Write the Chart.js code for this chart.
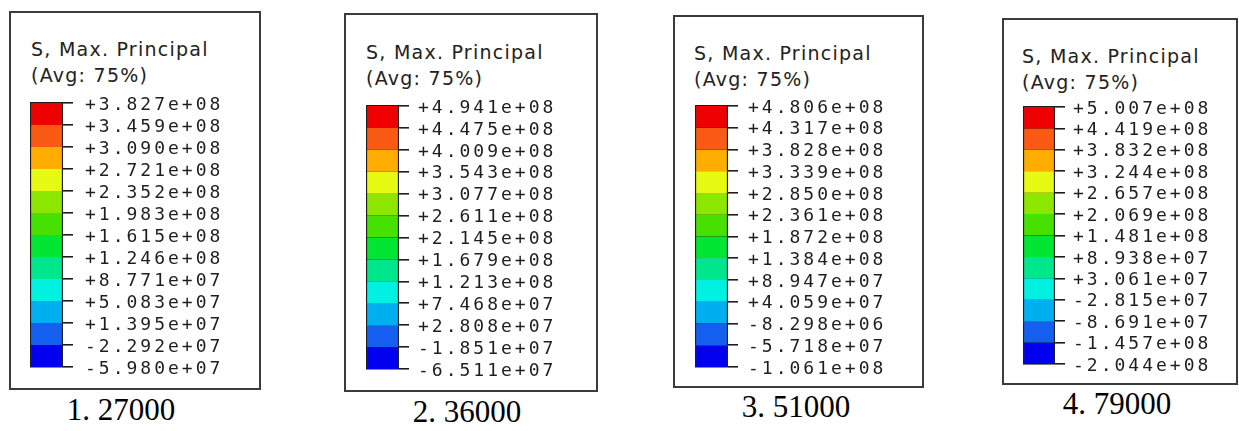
<!DOCTYPE html>
<html>
<head>
<meta charset="utf-8">
<script src="https://cdn.jsdelivr.net/npm/chart.js@4.4.1/dist/chart.umd.min.js"></script>
<style>
  html, body { margin: 0; padding: 0; background: #ffffff; }
  #page { position: relative; width: 1239px; height: 431px; overflow: hidden; background: #ffffff; }
  .box { position: absolute; box-sizing: border-box; border: 2px solid #3b3b3b; background: #ffffff; }
  .title { position: absolute; font-family: "DejaVu Sans", Verdana, sans-serif; font-size: 19px;
           line-height: 26px; letter-spacing: 1.25px; color: #222222; white-space: pre; }
  .caption { position: absolute; width: 200px; text-align: center; font-family: "Liberation Serif", "Times New Roman", serif;
             font-size: 31px; line-height: 30px; color: #000000; white-space: pre; }
  canvas { position: absolute; }
</style>
</head>
<body>
<div id="page"></div>
<script>
// Contour legend levels (S, Max. Principal, Pa), top to bottom, one list per load step
const levels27000 = [3.827e8, 3.459e8, 3.090e8, 2.721e8, 2.352e8, 1.983e8, 1.615e8, 1.246e8, 8.771e7, 5.083e7, 1.395e7, -2.292e7, -5.980e7];
const levels36000 = [4.941e8, 4.475e8, 4.009e8, 3.543e8, 3.077e8, 2.611e8, 2.145e8, 1.679e8, 1.213e8, 7.468e7, 2.808e7, -1.851e7, -6.511e7];
const levels51000 = [4.806e8, 4.317e8, 3.828e8, 3.339e8, 2.850e8, 2.361e8, 1.872e8, 1.384e8, 8.947e7, 4.059e7, -8.298e6, -5.718e7, -1.061e8];
const levels79000 = [5.007e8, 4.419e8, 3.832e8, 3.244e8, 2.657e8, 2.069e8, 1.481e8, 8.938e7, 3.061e7, -2.815e7, -8.691e7, -1.457e8, -2.044e8];

const captions = ['1. 27000', '2. 36000', '3. 51000', '4. 79000'];
const titleLines = ['S, Max. Principal', '(Avg: 75%)'];

// Rainbow spectrum, one colour per band, top (max) to bottom (min)
const bandColors = ['#ee0000', '#fa5a14', '#ffae00', '#e6fa14', '#8ce600', '#46e100',
                    '#00e632', '#00e68c', '#00f0e1', '#00aff0', '#145ff0', '#0000ee'];

// Placement of each legend panel on the page
const panelLayout = [
  { box: [9, 11, 252, 379],   bar: [30, 103, 33, 264],   title: [31, 56],   caption: [121, 421], labelPad: 12 },
  { box: [344, 13, 254, 379], bar: [366, 106, 33, 263],  title: [366, 59],  caption: [467, 423], labelPad: 9 },
  { box: [673, 15, 251, 373], bar: [695, 106, 33, 261],  title: [694, 60],  caption: [796, 418], labelPad: 10 },
  { box: [1002, 18, 236, 367], bar: [1023, 107, 32, 257], title: [1022, 63], caption: [1117, 415], labelPad: 8 }
];
const allLevels = [levels27000, levels36000, levels51000, levels79000];

// "+3.827e+08" style: explicit sign, 4 significant digits, two-digit exponent
function formatLevel(v) {
  const parts = Math.abs(v).toExponential(3).split('e');
  const expSign = parts[1][0];
  const expDigits = parts[1].slice(1).padStart(2, '0');
  return (v < 0 ? '-' : '+') + parts[0] + 'e' + expSign + expDigits;
}

// Tick labels of the legend are drawn with wide character spacing
const spacedLabels = {
  id: 'spacedLabels',
  beforeDraw(chart) { chart.ctx.letterSpacing = '3px'; }
};

const page = document.getElementById('page');
const AXIS_W = 170;
const PAD = 14;

panelLayout.forEach((lay, p) => {
  const levels = allLevels[p];

  const box = document.createElement('div');
  box.className = 'box';
  box.style.left = lay.box[0] + 'px';
  box.style.top = lay.box[1] + 'px';
  box.style.width = lay.box[2] + 'px';
  box.style.height = lay.box[3] + 'px';
  page.appendChild(box);

  const title = document.createElement('div');
  title.className = 'title';
  title.textContent = titleLines.join('\n');
  title.style.left = lay.title[0] + 'px';
  title.style.top = (lay.title[1] - 19.6) + 'px';
  page.appendChild(title);

  const cap = document.createElement('div');
  cap.className = 'caption';
  cap.textContent = captions[p];
  cap.style.left = (lay.caption[0] - 100) + 'px';
  cap.style.top = (lay.caption[1] - 25.6) + 'px';
  page.appendChild(cap);

  const canvas = document.createElement('canvas');
  const cw = lay.bar[2] + AXIS_W;
  const ch = lay.bar[3] + PAD * 2;
  canvas.width = cw;
  canvas.height = ch;
  canvas.style.width = cw + 'px';
  canvas.style.height = ch + 'px';
  canvas.style.left = lay.bar[0] + 'px';
  canvas.style.top = (lay.bar[1] - PAD) + 'px';
  page.appendChild(canvas);

  const datasets = bandColors.map((color, i) => ({
    data: [[levels[i + 1], levels[i]]],
    backgroundColor: color,
    borderColor: '#1e1e1e',
    borderWidth: { left: 1.5, right: 1.5, top: 0, bottom: 0 },
    borderSkipped: false,
    grouped: false,
    barPercentage: 1,
    categoryPercentage: 1
  }));

  new Chart(canvas, {
    type: 'bar',
    data: { labels: [''], datasets },
    plugins: [spacedLabels],
    options: {
      responsive: false,
      animation: false,
      events: [],
      layout: { padding: { top: PAD, bottom: PAD, left: 0, right: 0 } },
      plugins: { legend: { display: false }, tooltip: { enabled: false }, title: { display: false } },
      scales: {
        x: { display: false },
        y: {
          position: 'right',
          min: levels[levels.length - 1],
          max: levels[0],
          z: 1,
          afterBuildTicks: (scale) => { scale.ticks = levels.map(v => ({ value: v })); },
          afterFit: (scale) => {
            scale.width = AXIS_W;
            scale.paddingTop = 0;
            scale.paddingBottom = 0;
          },
          grid: { drawOnChartArea: true, drawTicks: true, tickLength: 10, color: '#1e1e1e', lineWidth: 1.6 },
          border: { display: false },
          ticks: {
            autoSkip: false,
            padding: lay.labelPad,
            labelOffset: 2,
            color: '#1e1e1e',
            font: { family: 'DejaVu Sans Mono', size: 18 },
            callback: (value) => formatLevel(value)
          }
        }
      }
    }
  });
});
</script>
</body>
</html>
